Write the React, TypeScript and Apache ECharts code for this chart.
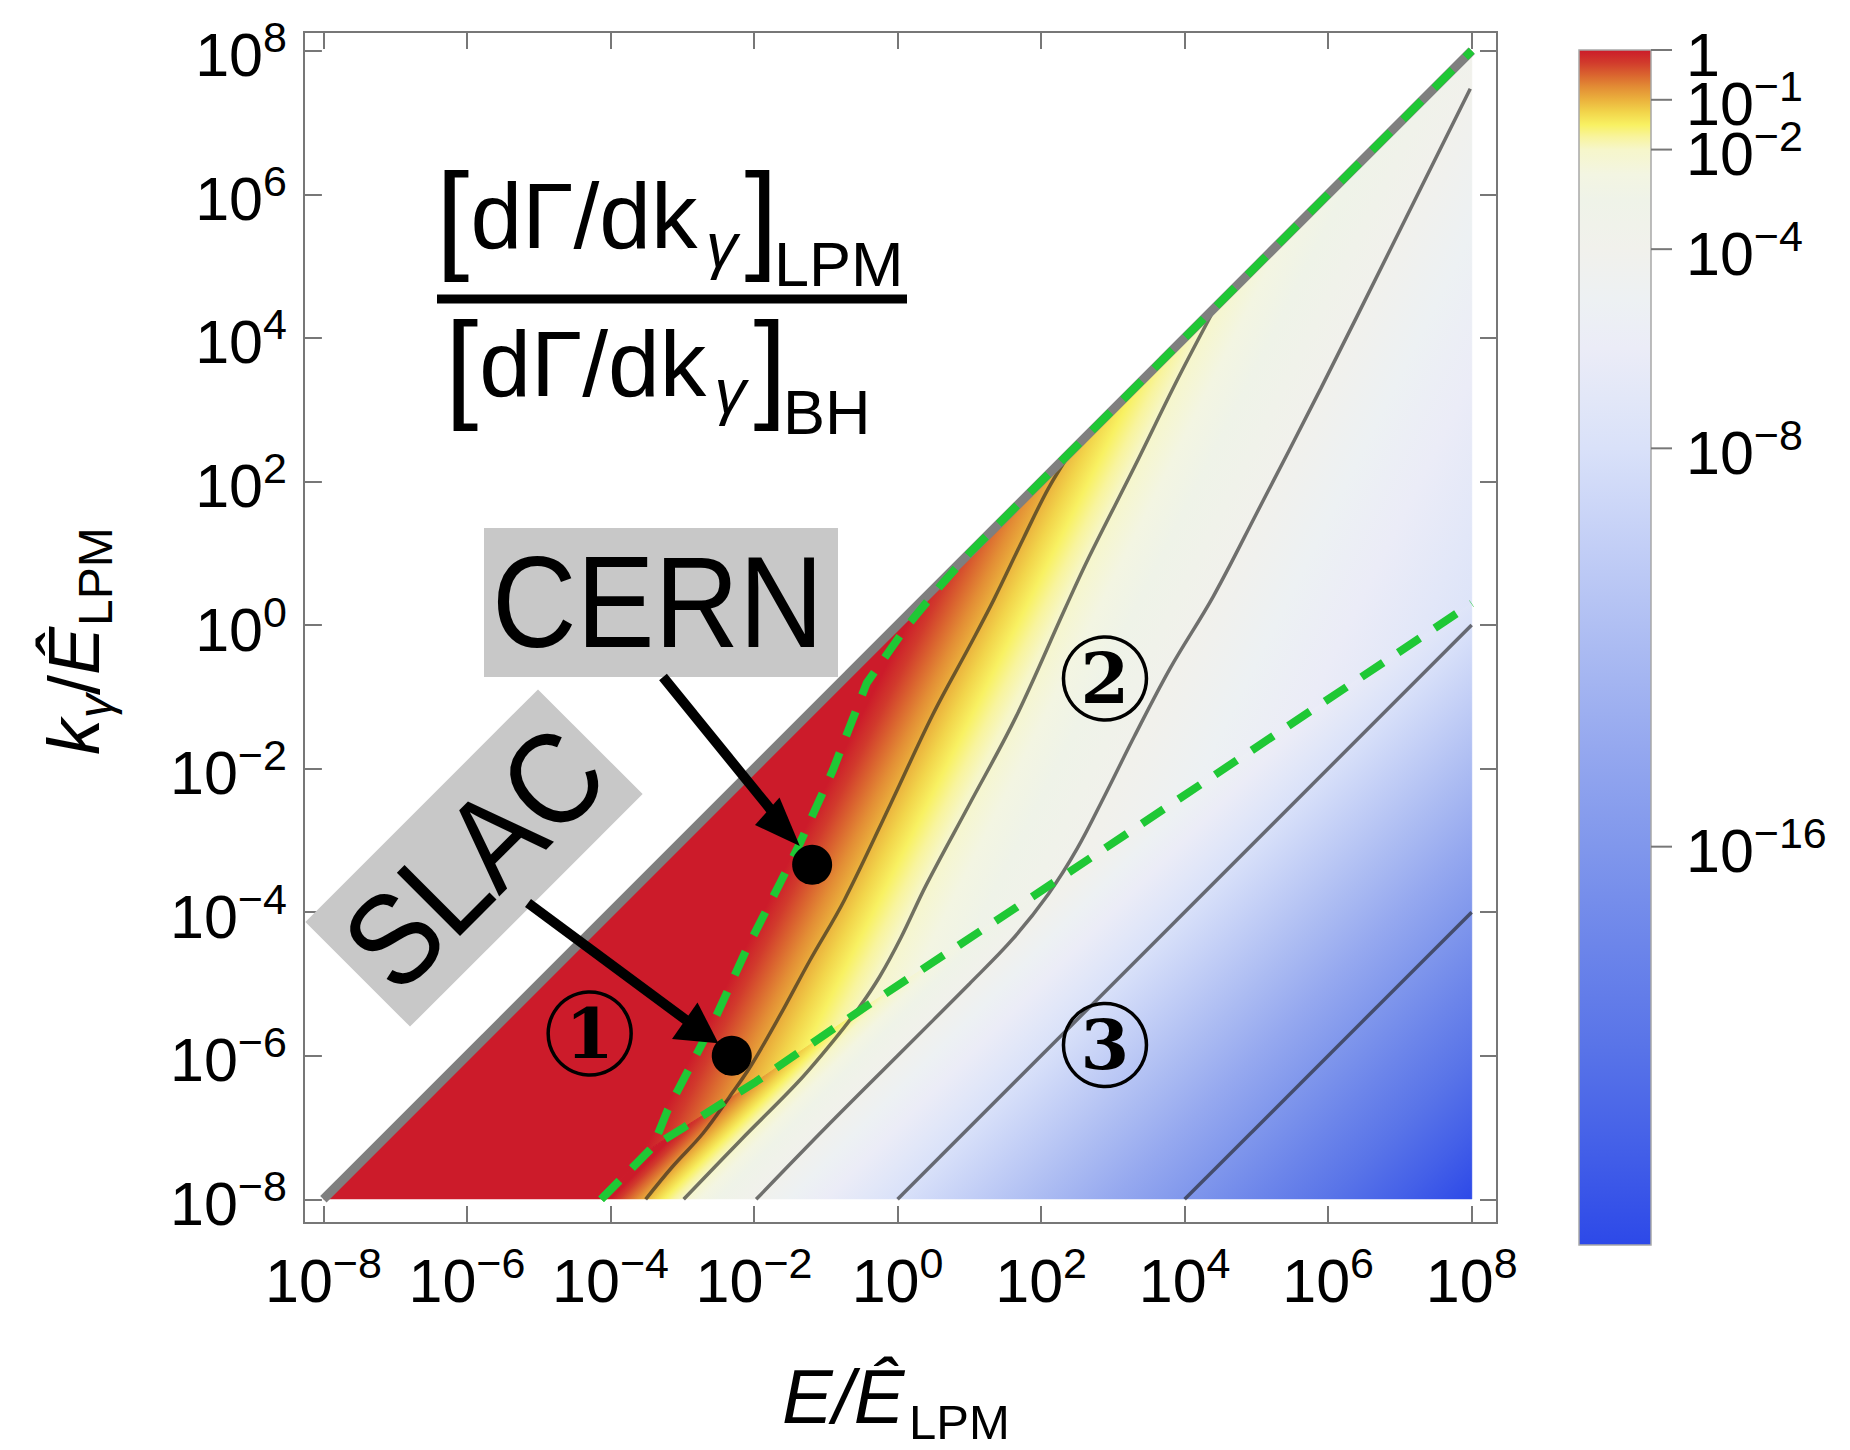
import React, { useEffect, useRef } from 'react';
import * as echarts from 'echarts';

const FONT = "'Liberation Sans', Arial, Helvetica, sans-serif";
const SERIF = "'DejaVu Serif', 'Liberation Serif', serif";

// axis tick exponents (log10 of E/Ê and k/Ê)
const axisTickExponents = [-8, -6, -4, -2, 0, 2, 4, 6, 8];
// colour bar tick exponents (log10 of the ratio)
const colorbarTickExponents = [0, -1, -2, -4, -8, -16];

// colour scale: log10(ratio) -> colour
const colorScaleLogRatio = [0, -0.25, -0.5, -0.75, -1, -1.25, -1.5, -1.75, -2, -2.5, -3, -4, -5, -6, -7, -8, -10, -12, -14, -16, -18, -20, -22, -24];
const colorScaleColors = ['#cc1b2a', '#d13a2c', '#da642f', '#e38e35', '#ebb23d', '#f2d54b', '#f8f162', '#f8f49e', '#f6f6ca', '#f3f5e2', '#eff3e8', '#f1f1ec', '#edf1f3', '#ebecf7', '#e2e7f8', '#d9e1f9', '#c2cef6', '#abbbf2', '#95a8ef', '#8097ec', '#6c85ea', '#5974e8', '#4460e8', '#2d49e8'];

// boundaries, [log10 E, log10 k]
const kinematicLimit: [number, number][] = [[-8, -8], [8, 8]];
const dielectricBoundary: [number, number][] = [[-4.13, -8], [-3.41, -7.27], [-2.98, -7.0], [-1.97, -6.36], [-0.42, -5.3], [1.66, -3.93], [4, -2.37], [8, 0.3]];
const lpmOnsetBoundary: [number, number][] = [[-4.13, -8], [-3.41, -7.27], [-3.2, -6.75], [-2.55, -5.5], [-2.11, -4.53], [-1.64, -3.6], [-1.36, -3.04], [-0.9, -2.02], [-0.43, -0.81], [0.12, -0.03], [0.6, 0.55], [1.0, 1.0], [8, 8]];

// contour lines of the ratio, [log10 E, log10 k]
const contour1e1: [number, number][] = [[-3.51, -8], [-3.14, -7.55], [-2.71, -7.08], [-2.34, -6.57], [-2.05, -6.15], [-1.65, -5.46], [-1.22, -4.67], [-0.74, -3.83], [-0.1, -2.5], [0.49, -1.25], [1.0, -0.3], [1.34, 0.35], [1.76, 1.22], [2.1, 1.9], [2.42, 2.42]];
const contour1e2: [number, number][] = [[-2.98, -8], [-2.18, -7.17], [-1.38, -6.36], [-0.9, -5.8], [-0.55, -5.35], [-0.25, -4.9], [0.05, -4.35], [0.4, -3.62], [1.0, -2.5], [1.65, -1.28], [2.33, 0.22], [2.67, 0.95], [3.3, 2.2], [3.9, 3.42], [4.43, 4.43]];
const contour1e4: [number, number][] = [[-1.97, -8], [-1, -7], [0, -6], [1, -5], [1.6, -4.38], [2.1, -3.75], [2.5, -3.12], [2.9, -2.35], [3.3, -1.55], [3.8, -0.6], [4.4, 0.4], [5.0, 1.55], [5.9, 3.3], [6.9, 5.3], [7.98, 7.47]];
const contour1e8: [number, number][] = [[0, -8], [8, 0]];
const contour1e16: [number, number][] = [[4, -8], [8, -4]];

// experiments
const experimentPoints: [number, number][] = [[-1.19, -3.34], [-2.31, -6.0]];
// region markers
const regionMarkers: [number, number, string][] = [[-4.29, -5.69, '1'], [2.89, -0.745, '2'], [2.89, -5.85, '3']];

function expText(v: number) {
  const e = Math.round(v);
  const s = e < 0 ? '\u2212' + Math.abs(e) : String(e);
  return '{b|10}{s|' + s + '}';
}

const richTick = {
  b: { fontFamily: FONT, fontSize: 61, lineHeight: 70, verticalAlign: 'bottom', color: '#000' },
  s: { fontFamily: FONT, fontSize: 43, lineHeight: 31, verticalAlign: 'top', color: '#000' },
};

function stopsFor(minLog: number) {
  const stops: { offset: number; color: string }[] = [];
  for (let i = 0; i < colorScaleLogRatio.length; i++) {
    const l = colorScaleLogRatio[i];
    if (l < minLog) break;
    stops.push({ offset: l / minLog, color: colorScaleColors[i] });
  }
  return stops;
}

const tickStyle = { color: '#777', width: 2 };

function contourSeries(data: [number, number][]) {
  return {
    type: 'line', xAxisIndex: 0, yAxisIndex: 0, data, symbol: 'none', z: 3, silent: true, smooth: 0.35,
    lineStyle: { color: 'rgba(30,30,30,0.62)', width: 3.5 },
  };
}

function frameAxis(kind: 'x' | 'y', position: string, offset: number, withLabels: boolean) {
  return {
    type: 'value', gridIndex: 0, position, min: -8, max: 8, interval: 2, offset,
    axisLine: { show: false, onZero: false }, splitLine: { show: false },
    axisTick: { show: true, inside: true, length: kind === 'y' && position === 'left' ? 18 : 17, lineStyle: tickStyle },
    axisLabel: withLabels
      ? { margin: kind === 'x' ? 18 : 17, formatter: expText, rich: richTick, showMinLabel: true, showMaxLabel: true }
      : { show: false },
  };
}

function buildOption() {
  const t = (text: string, x: number, y: number, font: string, extra: any = {}) => ({
    type: 'text', x, y, z: 100, ...extra,
    style: { text, font, fill: '#000', textAlign: 'left', textVerticalAlign: 'middle', ...(extra.style || {}) },
  });
  const numFont = '93px ' + FONT;
  const brFont = '120px ' + FONT;
  const subFont = '63px ' + FONT;
  const gamFont = 'italic 63px ' + FONT;

  return {
    animation: false,
    backgroundColor: '#fff',
    textStyle: { fontFamily: FONT },
    grid: [
      { left: 323.4, top: 50.7, width: 1148.3, height: 1148.6 },
      { left: 1579, top: 50, width: 72, height: 1195 },
    ],
    xAxis: [
      frameAxis('x', 'bottom', 23.7, true),
      frameAxis('x', 'top', 18.7, false),
      { type: 'value', gridIndex: 1, min: 0, max: 1, show: false },
    ],
    yAxis: [
      frameAxis('y', 'left', 19.5, true),
      frameAxis('y', 'right', 25.3, false),
      { type: 'value', gridIndex: 1, position: 'right', min: -24, max: 0, show: false },
    ],
    series: [
      {
        type: 'custom', xAxisIndex: 0, yAxisIndex: 0, z: 1, silent: true, clip: true,
        data: [[0, 0], [1, 0]],
        renderItem: (params: any, api: any) => {
          const i = params.dataIndex;
          let pts: [number, number][];
          let g0: number[];
          let g1: number[];
          let minLog: number;
          if (i === 0) {
            pts = [kinematicLimit[0], kinematicLimit[1], ...dielectricBoundary.slice().reverse()];
            g0 = api.coord([0, -0.25]);
            g1 = api.coord([6.56, -3.53]);
            minLog = -8;
          } else {
            pts = [...dielectricBoundary, [8, -8]];
            g0 = api.coord([2, -2]);
            g1 = api.coord([8, -8]);
            minLog = -24;
          }
          const grad = new echarts.graphic.LinearGradient(g0[0], g0[1], g1[0], g1[1], stopsFor(minLog), true);
          return {
            type: 'polygon',
            shape: { points: pts.map((p) => api.coord(p)) },
            style: { fill: grad, stroke: grad, lineWidth: 1 },
          };
        },
      },
      contourSeries(contour1e1),
      contourSeries(contour1e2),
      contourSeries(contour1e4),
      contourSeries(contour1e8),
      contourSeries(contour1e16),
      {
        type: 'line', xAxisIndex: 0, yAxisIndex: 0, data: kinematicLimit, symbol: 'none', z: 4, silent: true,
        lineStyle: { color: '#7f7f7f', width: 9 },
      },
      {
        type: 'line', xAxisIndex: 0, yAxisIndex: 0, data: dielectricBoundary, symbol: 'none', z: 5, silent: true,
        lineStyle: { color: '#1fc835', width: 8, type: [26, 18] },
      },
      {
        type: 'line', xAxisIndex: 0, yAxisIndex: 0, data: lpmOnsetBoundary, symbol: 'none', z: 5, silent: true,
        lineStyle: { color: '#1fc835', width: 8, type: [26, 18] },
      },
      {
        type: 'scatter', xAxisIndex: 0, yAxisIndex: 0, data: experimentPoints, symbolSize: 40, z: 6, silent: true,
        itemStyle: { color: '#000', opacity: 1 },
      },
      {
        type: 'scatter', xAxisIndex: 0, yAxisIndex: 0, z: 6, silent: true,
        data: regionMarkers.map((m) => ({ value: [m[0], m[1]], name: m[2] })),
        symbolSize: 83,
        itemStyle: { color: 'rgba(0,0,0,0)', borderColor: '#000', borderWidth: 3.5, opacity: 1 },
        label: { show: true, position: 'inside', formatter: '{b}', fontFamily: SERIF, fontWeight: 'bold', fontSize: 70, color: '#000' },
      },
      {
        type: 'custom', xAxisIndex: 2, yAxisIndex: 2, z: 1, silent: true,
        data: [[0.5, -12]],
        renderItem: (params: any, api: any) => {
          const a = api.coord([0, 0]);
          const b = api.coord([1, -24]);
          return {
            type: 'rect',
            shape: { x: a[0], y: a[1], width: b[0] - a[0], height: b[1] - a[1] },
            style: {
              fill: new echarts.graphic.LinearGradient(0, 0, 0, 1, stopsFor(-24)),
              stroke: '#a8a8a8', lineWidth: 1.5,
            },
          };
        },
      },
      {
        // colour bar ticks and their labels
        type: 'custom', xAxisIndex: 2, yAxisIndex: 2, z: 2, silent: true, clip: false,
        data: colorbarTickExponents.map((v) => [1, v]),
        renderItem: (params: any, api: any) => {
          const v = api.value(1);
          const p = api.coord([api.value(0), v]);
          return {
            type: 'group',
            children: [
              { type: 'line', shape: { x1: p[0], y1: p[1], x2: p[0] + 21, y2: p[1] }, style: { stroke: '#777', lineWidth: 2 } },
              {
                type: 'text', x: p[0] + 35, y: p[1],
                style: {
                  text: Math.round(v) === 0 ? '{b|1}' : expText(v),
                  rich: richTick, textAlign: 'left', textVerticalAlign: 'middle', fill: '#000',
                },
              },
            ],
          };
        },
      },
    ],
    graphic: [
      // frame
      { type: 'rect', shape: { x: 304, y: 32, width: 1193, height: 1191 }, style: { fill: 'none', stroke: '#777', lineWidth: 2 }, z: 50 },
      // title fraction
      t('[', 436, 214.5, brFont),
      t('d\u0393/dk', 470.5, 215.6, numFont),
      t('\u03b3', 706, 244.5, gamFont),
      t(']', 744.6, 214.5, brFont),
      t('LPM', 774, 263.5, subFont),
      { type: 'rect', shape: { x: 437, y: 294.5, width: 470, height: 9 }, style: { fill: '#000' }, z: 100 },
      t('[', 445, 363.7, brFont),
      t('d\u0393/dk', 479.2, 364, numFont),
      t('\u03b3', 714.5, 391, gamFont),
      t(']', 753.6, 363.7, brFont),
      t('BH', 783, 412, subFont),
      // CERN label
      { type: 'rect', shape: { x: 484, y: 528, width: 354, height: 149 }, style: { fill: '#c8c8c8' }, z: 90 },
      { type: 'text', x: 657.7, y: 602, scaleX: 0.9, z: 100, style: { text: 'CERN', font: '130px ' + FONT, fill: '#000', textAlign: 'center', textVerticalAlign: 'middle' } },
      { type: 'line', shape: { x1: 663, y1: 677, x2: 771, y2: 810 }, style: { stroke: '#000', lineWidth: 10 }, z: 100 },
      { type: 'polygon', shape: { points: [[799.8, 846], [755, 825], [779.5, 797.5]] }, style: { fill: '#000' }, z: 100 },
      // SLAC label
      {
        type: 'group', x: 474, y: 858, rotation: Math.PI / 4, z: 90,
        children: [
          { type: 'rect', shape: { x: -164.5, y: -74, width: 329, height: 148 }, style: { fill: '#c8c8c8' }, z: 90 },
          { type: 'text', x: 0, y: 0, scaleX: 0.9, z: 100, style: { text: 'SLAC', font: '130px ' + FONT, fill: '#000', textAlign: 'center', textVerticalAlign: 'middle' } },
        ],
      },
      { type: 'line', shape: { x1: 528, y1: 903, x2: 686, y2: 1020 }, style: { stroke: '#000', lineWidth: 10 }, z: 100 },
      { type: 'polygon', shape: { points: [[718.4, 1043.3], [672, 1039], [697.5, 1002.5]] }, style: { fill: '#000' }, z: 100 },
      // x axis title
      t('E/\u00ca', 782, 1396, 'italic 76px ' + FONT),
      t('LPM', 909, 1422, '49px ' + FONT),
      // y axis title (rotated)
      {
        type: 'group', x: 100, y: 755, rotation: Math.PI / 2, z: 100,
        children: [
          t('k', 0, -26, 'italic 72px ' + FONT),
          t('\u03b3', 37, -4.5, 'italic 48px ' + FONT),
          t('/', 60, -26, '72px ' + FONT),
          t('\u00ca', 80, -26, 'italic 72px ' + FONT),
          t('LPM', 129, -5, '48px ' + FONT),
        ],
      },
    ],
  };
}

export default function App() {
  const ref = useRef<HTMLDivElement>(null);
  useEffect(() => {
    const chart = echarts.init(ref.current as HTMLDivElement, undefined, { renderer: 'svg' });
    chart.setOption(buildOption() as any);
    return () => chart.dispose();
  }, []);
  return <div ref={ref} style={{ position: 'fixed', left: 0, top: 0, width: 1850, height: 1450, background: '#fff' }} />;
}
